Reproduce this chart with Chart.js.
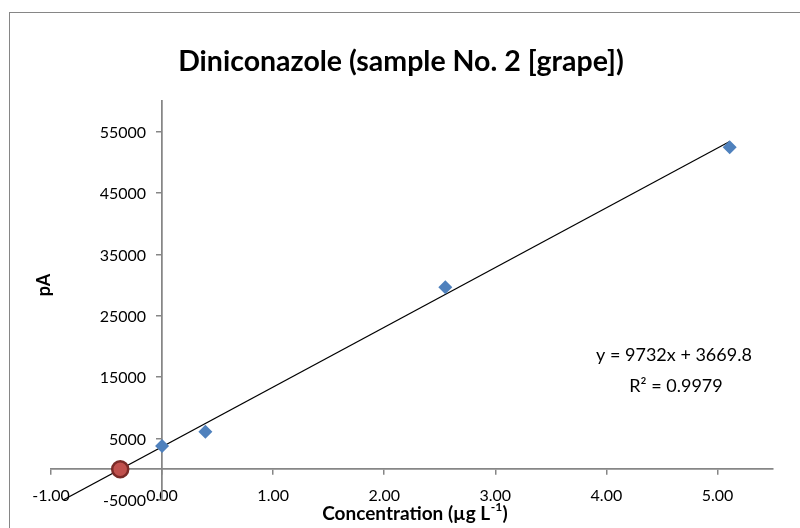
<!DOCTYPE html>
<html>
<head>
<meta charset="utf-8">
<script src="https://cdn.jsdelivr.net/npm/chart.js@4/dist/chart.umd.min.js"></script>
<style>
  html, body { margin: 0; padding: 0; background: #ffffff; }
  #wrap { width: 800px; height: 528px; }
</style>
</head>
<body>
<div id="wrap"><canvas id="c" width="800" height="528"></canvas></div>
<script>
// ---- data ----
const titleText = 'Diniconazole (sample No. 2 [grape])';
const xTitleMain = 'Concentration (µg L';
const xTitleSup = '-1';
const xTitleEnd = ')';
const yTitleText = 'pA';
const equationText = 'y = 9732x + 3669.8';
const r2Text = 'R² = 0.9979';

const sampleConc = [0, 0.39, 2.55, 5.11];
const samplePA = [3800, 6100, 29650, 52450];

const trendConc = [-1.0, 5.11];
const trendPA = [-6062, 53400];

const interceptConc = [-0.377];
const interceptPA = [0];

const xTickValues = [-1, 0, 1, 2, 3, 4, 5];
const yTickValues = [-5000, 5000, 15000, 25000, 35000, 45000, 55000];

const toPoints = (xs, ys) => xs.map((x, i) => ({ x: x, y: ys[i] }));

const FONT = 'Lato, "Open Sans", "DejaVu Sans", sans-serif';
const AXIS_COLOR = '#868686';

const textPlugin = {
  id: 'texts',
  beforeDraw(chart) {
    const ctx = chart.ctx;
    ctx.save();
    ctx.fillStyle = '#ffffff';
    ctx.fillRect(0, 0, chart.width, chart.height);
    ctx.strokeStyle = AXIS_COLOR;
    ctx.lineWidth = 1;
    ctx.strokeRect(9.5, 12.5, 1000, 1000);
    ctx.restore();
  },
  afterDraw(chart) {
    const ctx = chart.ctx;
    const yScale = chart.scales.y;
    const xScale = chart.scales.x;
    const yAxisX = xScale.getPixelForValue(0);
    ctx.save();
    ctx.fillStyle = '#000000';
    ctx.textBaseline = 'middle';
    // y tick labels, placed by the y scale, left of the axis line
    ctx.font = '16px ' + FONT;
    ctx.textAlign = 'right';
    yTickValues.forEach(v => {
      ctx.fillText(String(v), yAxisX - 16, yScale.getPixelForValue(v) + 1);
    });
    // title
    ctx.font = 'bold 28.5px ' + FONT;
    ctx.textAlign = 'center';
    ctx.fillText(titleText, 401, 62);
    // y title
    ctx.save();
    ctx.translate(44, 285);
    ctx.rotate(-Math.PI / 2);
    ctx.font = 'bold 18px ' + FONT;
    ctx.fillText(yTitleText, 0, 0);
    ctx.restore();
    // x title with superscript
    ctx.font = 'bold 19px ' + FONT;
    const wMain = ctx.measureText(xTitleMain).width;
    const wEnd = ctx.measureText(xTitleEnd).width;
    ctx.font = 'bold 12px ' + FONT;
    const wSup = ctx.measureText(xTitleSup).width;
    const total = wMain + wSup + 1 + wEnd;
    const x0 = 415 - total / 2;
    ctx.textAlign = 'left';
    ctx.font = 'bold 19px ' + FONT;
    ctx.fillText(xTitleMain, x0, 514);
    ctx.font = 'bold 12px ' + FONT;
    ctx.fillText(xTitleSup, x0 + wMain + 0.5, 507);
    ctx.font = 'bold 19px ' + FONT;
    ctx.fillText(xTitleEnd, x0 + wMain + wSup + 1, 514);
    // trendline equation
    ctx.textAlign = 'center';
    ctx.font = '18px ' + FONT;
    ctx.fillText(equationText, 674, 355);
    ctx.fillText(r2Text, 676, 386);
    ctx.restore();
  }
};

new Chart(document.getElementById('c'), {
  type: 'scatter',
  data: {
    datasets: [
      {
        label: 'x-intercept',
        data: toPoints(interceptConc, interceptPA),
        pointStyle: 'circle',
        pointRadius: 8,
        pointBackgroundColor: '#C0504D',
        pointBorderColor: '#7A2A27',
        pointBorderWidth: 2.5,
        showLine: false
      },
      {
        label: 'samples',
        data: toPoints(sampleConc, samplePA),
        pointStyle: 'rectRot',
        pointRadius: 7,
        pointBackgroundColor: '#4F81BD',
        pointBorderColor: '#4F81BD',
        pointBorderWidth: 0,
        showLine: false
      },
      {
        label: 'trend',
        type: 'line',
        data: toPoints(trendConc, trendPA),
        borderColor: '#000000',
        borderWidth: 1.2,
        pointRadius: 0,
        fill: false,
        tension: 0
      }
    ]
  },
  options: {
    responsive: false,
    animation: false,
    events: [],
    layout: { padding: { left: 51, right: 27, top: 101, bottom: 28 } },
    plugins: {
      legend: { display: false },
      tooltip: { enabled: false },
      title: { display: false }
    },
    scales: {
      x: {
        type: 'linear',
        position: { y: 0 },
        min: -1,
        max: 5.5,
        afterBuildTicks: (axis) => { axis.ticks = xTickValues.map(v => ({ value: v })); },
        ticks: {
          color: '#000000',
          font: { family: FONT, size: 16 },
          padding: 12,
          maxRotation: 0,
          autoSkip: false,
          callback: (v) => Number(v).toFixed(2)
        },
        grid: { display: true, drawOnChartArea: false, drawTicks: true, tickLength: 5, color: AXIS_COLOR, lineWidth: 1.5 },
        border: { display: true, color: AXIS_COLOR, width: 1.75 }
      },
      y: {
        type: 'linear',
        position: { x: 0 },
        min: -5000,
        max: 60000,
        afterBuildTicks: (axis) => { axis.ticks = yTickValues.map(v => ({ value: v })); },
        ticks: {
          display: false,
          autoSkip: false
        },
        grid: { display: true, drawOnChartArea: false, drawTicks: true, tickLength: 5, color: AXIS_COLOR, lineWidth: 1.5 },
        border: { display: true, color: AXIS_COLOR, width: 1.75 }
      }
    }
  },
  plugins: [textPlugin]
});
</script>
</body>
</html>
